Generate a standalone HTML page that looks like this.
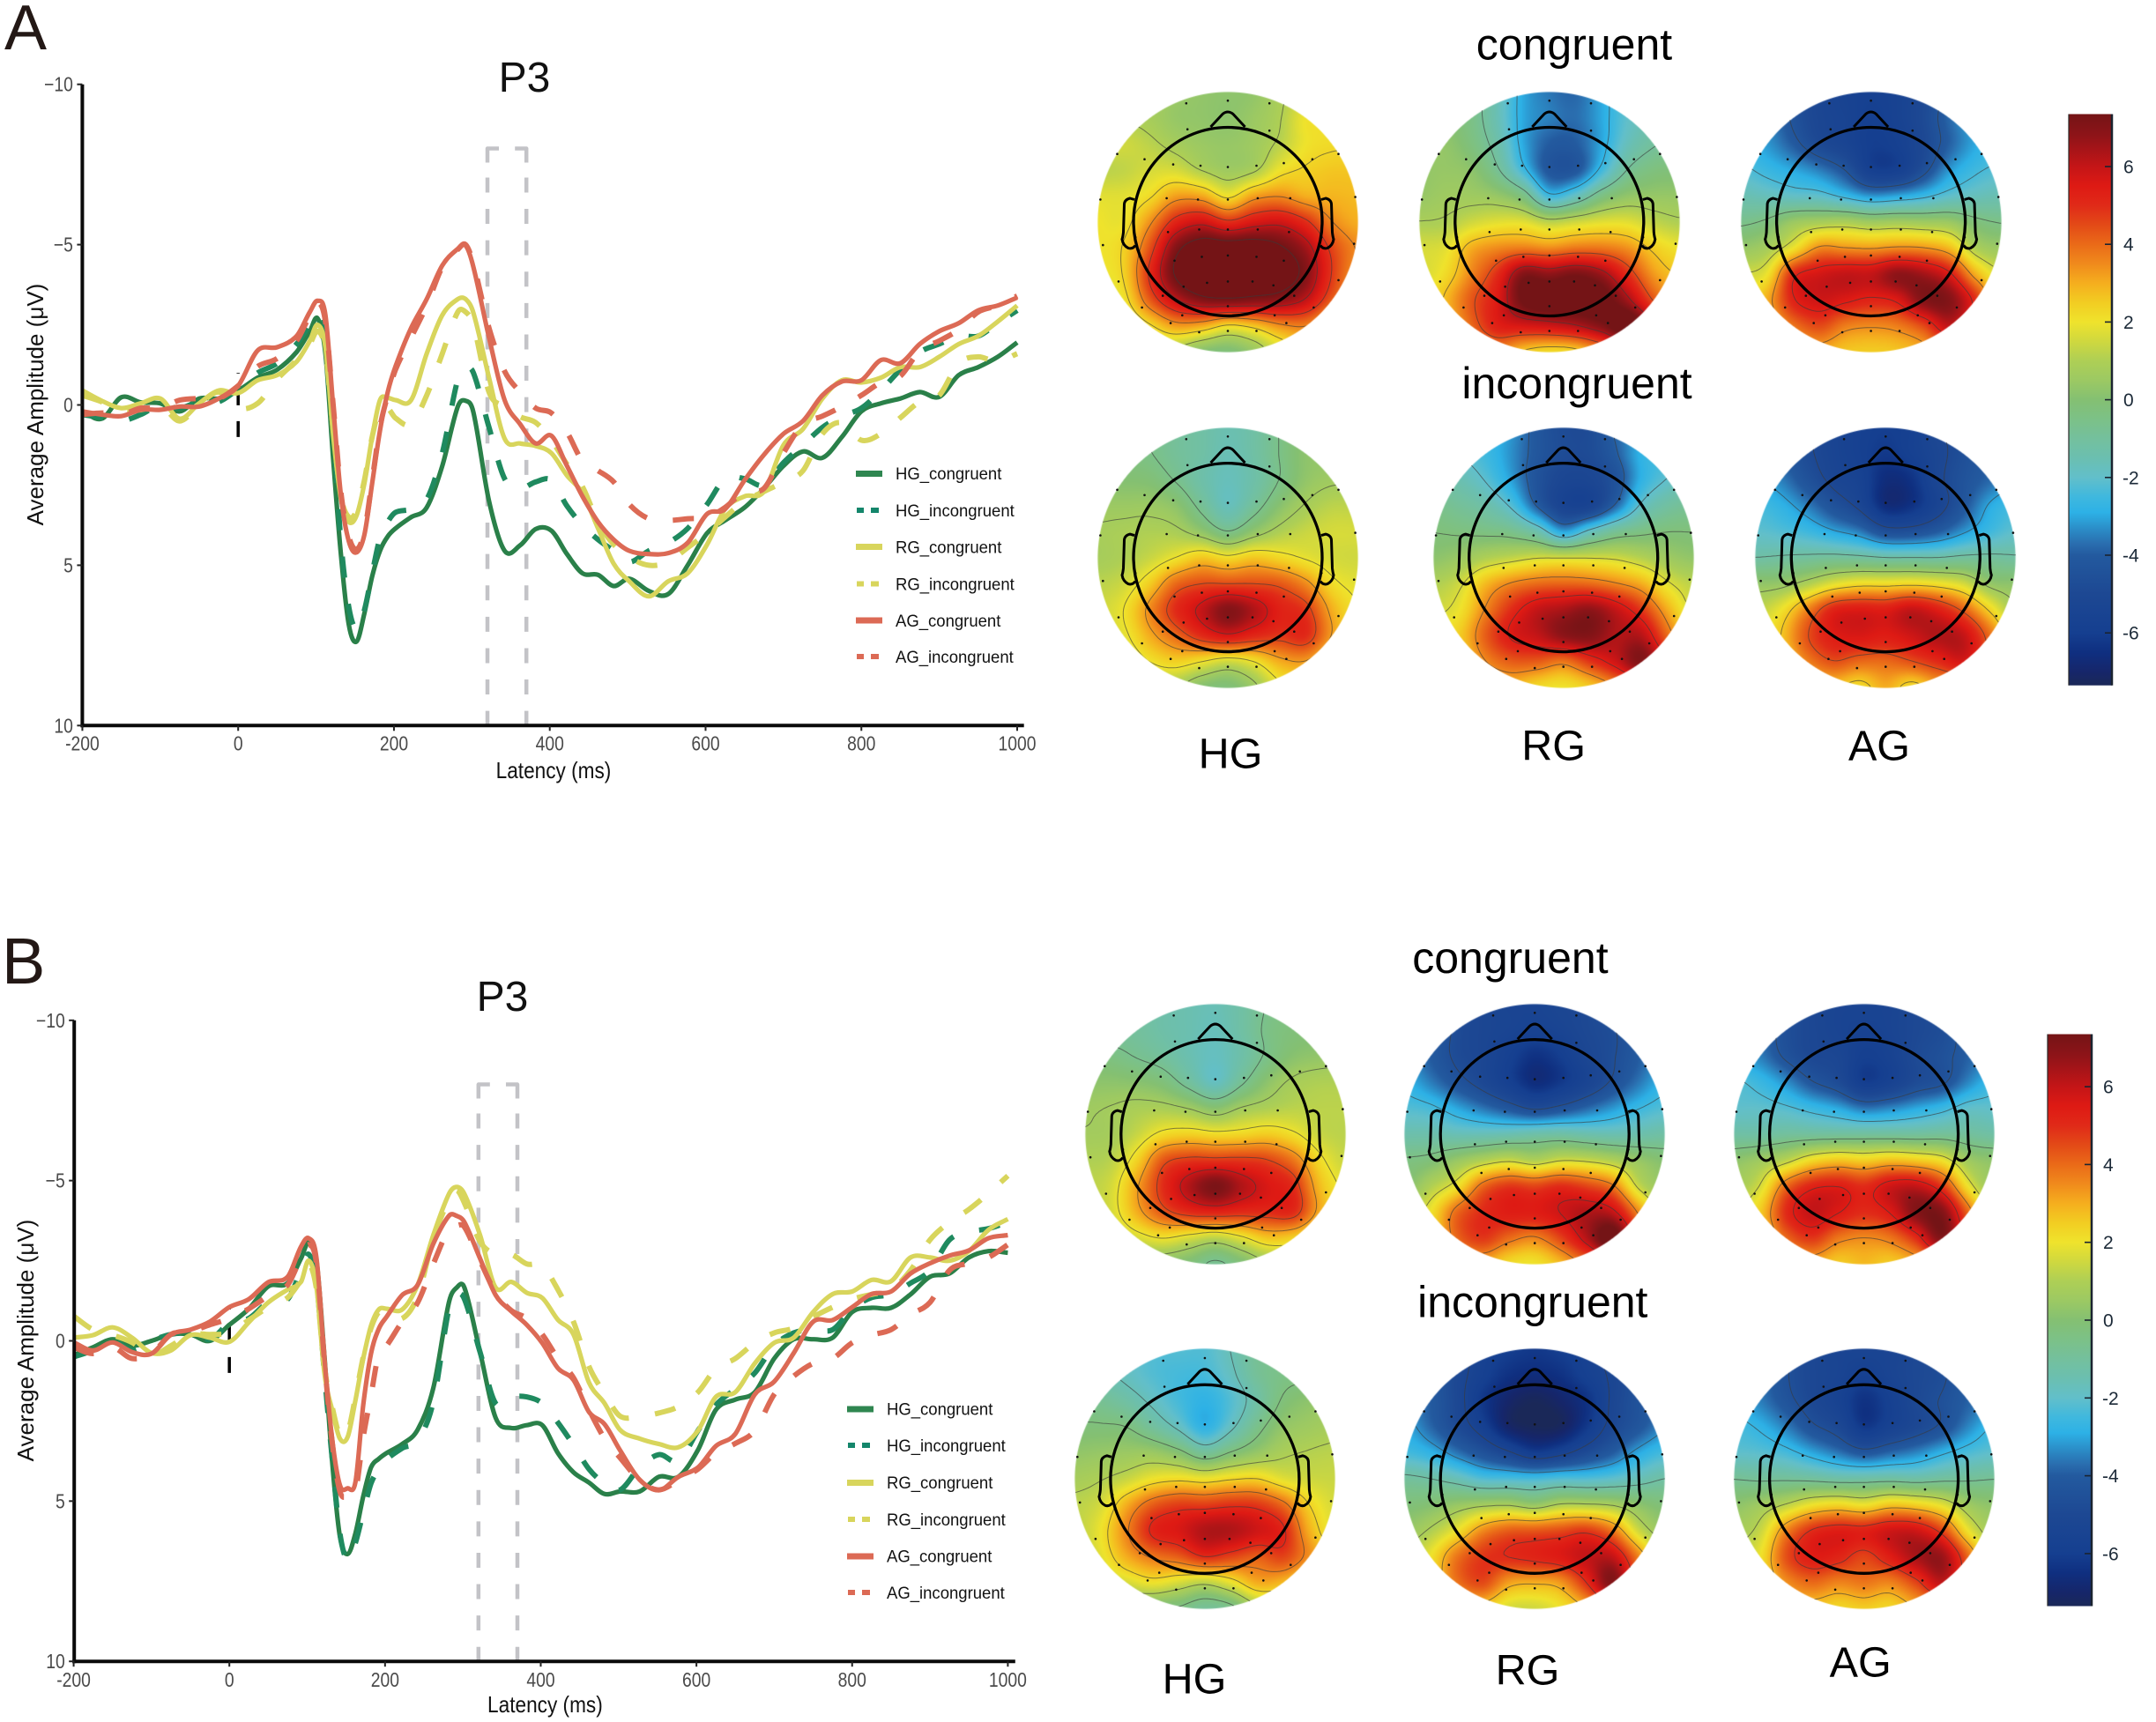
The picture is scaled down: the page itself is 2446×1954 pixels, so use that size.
<!DOCTYPE html>
<html lang="en">
<head>
<meta charset="utf-8">
<title>P3 ERP waveforms and scalp topographies</title>
<style>
html,body{margin:0;padding:0;background:#fff;}
#page{position:relative;width:2446px;height:1954px;overflow:hidden;background:#fff;font-family:"Liberation Sans",sans-serif;}
#page canvas{position:absolute;display:block;}
#overlay{position:absolute;left:0;top:0;}
#overlay text{font-family:"Liberation Sans",sans-serif;}
</style>
</head>
<body>
<div id="page">
<svg id="overlay" width="2446" height="1954" viewBox="0 0 2446 1954" xmlns="http://www.w3.org/2000/svg">
  <defs id="defs"></defs>
  <g id="plotA"></g>
  <g id="plotB"></g>
  <g id="topoLayer"></g>
  <g id="barLayer"></g>

  <text x="5" y="56" font-size="72" fill="#231815">A</text>
  <text x="2" y="1116" font-size="74" fill="#231815">B</text>
  <text x="595" y="104" font-size="48" text-anchor="middle" fill="#111">P3</text>
  <text x="570" y="1147" font-size="48" text-anchor="middle" fill="#111">P3</text>

  <text transform="translate(628,883) scale(.87,1)" font-size="26" text-anchor="middle" fill="#111">Latency (ms)</text>
  <text transform="translate(618.4,1943) scale(.87,1)" font-size="26" text-anchor="middle" fill="#111">Latency (ms)</text>
  <text transform="translate(49,459) rotate(-90)" font-size="26" text-anchor="middle" fill="#111">Average Amplitude (μV)</text>
  <text transform="translate(38,1521) rotate(-90)" font-size="26" text-anchor="middle" fill="#111">Average Amplitude (μV)</text>

  <text x="1786" y="67.5" font-size="50" text-anchor="middle" fill="#000">congruent</text>
  <text x="1789" y="452" font-size="50" text-anchor="middle" fill="#000">incongruent</text>
  <text x="1396" y="871.5" font-size="48.5" text-anchor="middle" fill="#000">HG</text>
  <text x="1762.6" y="862.7" font-size="48.5" text-anchor="middle" fill="#000">RG</text>
  <text x="2132" y="862.7" font-size="48.5" text-anchor="middle" fill="#000">AG</text>

  <text x="1713.4" y="1104" font-size="50" text-anchor="middle" fill="#000">congruent</text>
  <text x="1738.8" y="1494.7" font-size="50" text-anchor="middle" fill="#000">incongruent</text>
  <text x="1355" y="1921.4" font-size="48.5" text-anchor="middle" fill="#000">HG</text>
  <text x="1733" y="1911.5" font-size="48.5" text-anchor="middle" fill="#000">RG</text>
  <text x="2110.7" y="1902.7" font-size="48.5" text-anchor="middle" fill="#000">AG</text>

  <g font-size="19.5" fill="#111">
    <g><rect x="971" y="534" width="30" height="7" fill="#2f8650"/><text transform="translate(1016,544) scale(.95,1)">HG_congruent</text></g>
    <g><rect x="972" y="576" width="8" height="6" fill="#14866b"/><rect x="988" y="576" width="9" height="6" fill="#14866b"/><text transform="translate(1016,586) scale(.95,1)">HG_incongruent</text></g>
    <g><rect x="971" y="617" width="30" height="7" fill="#d8d55c"/><text transform="translate(1016,627.5) scale(.95,1)">RG_congruent</text></g>
    <g><rect x="972" y="659.5" width="8" height="6" fill="#d8d55c"/><rect x="988" y="659.5" width="9" height="6" fill="#d8d55c"/><text transform="translate(1016,669.5) scale(.95,1)">RG_incongruent</text></g>
    <g><rect x="971" y="700.5" width="30" height="7" fill="#dc6a55"/><text transform="translate(1016,711) scale(.95,1)">AG_congruent</text></g>
    <g><rect x="972" y="742" width="8" height="6" fill="#dc6a55"/><rect x="988" y="742" width="9" height="6" fill="#dc6a55"/><text transform="translate(1016,752) scale(.95,1)">AG_incongruent</text></g>
  </g>
  <g font-size="19.5" fill="#111">
    <g><rect x="961" y="1595.5" width="30" height="7" fill="#2f8650"/><text transform="translate(1006,1605.5) scale(.95,1)">HG_congruent</text></g>
    <g><rect x="962" y="1637" width="8" height="6" fill="#14866b"/><rect x="978" y="1637" width="9" height="6" fill="#14866b"/><text transform="translate(1006,1647) scale(.95,1)">HG_incongruent</text></g>
    <g><rect x="961" y="1679" width="30" height="7" fill="#d8d55c"/><text transform="translate(1006,1689) scale(.95,1)">RG_congruent</text></g>
    <g><rect x="962" y="1721" width="8" height="6" fill="#d8d55c"/><rect x="978" y="1721" width="9" height="6" fill="#d8d55c"/><text transform="translate(1006,1731) scale(.95,1)">RG_incongruent</text></g>
    <g><rect x="961" y="1762.5" width="30" height="7" fill="#dc6a55"/><text transform="translate(1006,1772.5) scale(.95,1)">AG_congruent</text></g>
    <g><rect x="962" y="1804" width="8" height="6" fill="#dc6a55"/><rect x="978" y="1804" width="9" height="6" fill="#dc6a55"/><text transform="translate(1006,1814) scale(.95,1)">AG_incongruent</text></g>
  </g>
</svg>
</div>

<script>
/* ---------- ERP data ---------- */
var timesMs = [-200,-175,-150,-125,-100,-75,-50,-25,0,25,50,75,92,102,112,122,132,142,152,162,172,182,192,202,222,242,262,282,292,302,322,342,362,382,402,422,442,462,482,502,527,552,577,602,625,650,675,700,725,750,775,800,825,850,875,900,925,950,975,1000];
var xTickValues = [-200,0,200,400,600,800,1000];
var xTickLabels = ["-200","0","200","400","600","800","1000"];
var yTickValues = [-10,-5,0,5,10];
var yTickLabels = ["\u221210","\u22125","0","5","10"];
var windowStartMs = 320;
var windowEndMs = 370;

var a_HG_congruent = [.2,.43,-.24,-.08,-.05,.2,-.2,-.2,-.45,-.85,-1.1,
 -1.65,-2.3,-2.7,-1.6,1.7,4.7,6.85,7.38,6.5,5.35,4.55,4.1,3.85,
 3.5,3.2,1.9,.05,-.13,.23,3,4.55,4.38,3.87,3.92,4.65,5.25,5.3,5.65,5.42,
 5.8,5.9,5,4.0,3.6,3.2,2.6,1.9,1.45,1.65,1,.2,-.05,-.2,-.4,-.25,-.93,-1.18,-1.5,-1.95];
var a_HG_incongruent = [.3,.4,.5,.3,0,.1,-.1,-.1,-.5,-1,-1.3,
 -1.9,-2.5,-2.8,-2.4,.8,4.3,6.3,7,6.4,5.25,4.15,3.65,3.35,
 3.25,2.95,1.5,-.8,-1.15,-1,.7,2.3,2.6,2.4,2.35,3.15,3.75,4.2,4.55,4.9,
 4.55,4.3,3.85,3.1,2.3,2.3,2.5,1.8,1.25,.7,.35,.1,-.45,-1.1,-1.65,-1.9,-2.15,-2.15,-2.55,-2.95];
var a_RG_congruent = [-.45,-.13,.1,-.05,-.2,.43,-.05,-.45,-.37,-.77,-.93,
 -1.35,-2,-2.5,-1.8,.95,2.95,3.65,3.45,2.45,1,-.15,-.22,-.15,
 -.15,-1.6,-2.8,-3.3,-3.3,-2.87,-.85,1.05,1.2,1.28,1.5,2.2,2.75,3.85,4.95,5.5,
 5.97,5.5,5.25,4.35,3.25,2.85,2.7,1.25,.75,-.2,-.77,-.7,-.85,-1.18,-1.18,-1.5,-1.9,-2.15,-2.6,-3.1];
var a_RG_incongruent = [-.3,-.1,.15,.15,0,.5,0,-.4,.1,-.05,-.8,
 -1.4,-1.9,-2.3,-1.7,.8,2.85,3.5,3.3,2.35,1,.1,.1,.41,
 .6,-.3,-1.6,-2.9,-2.9,-2.5,-.4,.05,.37,.55,1.1,1.85,2.55,3.65,4.35,4.75,
 5,4.9,4.45,4,3.5,3,2.7,2.4,2.05,.9,.55,1.1,.9,.4,-.1,-.3,-1.3,-1.5,-1.35,-1.6];
var a_AG_congruent = [.2,.3,.35,.15,.15,.05,.05,-.2,-.6,-1.7,-1.8,
 -2.15,-2.9,-3.25,-2.8,.05,2.85,4.25,4.6,4.05,2.45,.8,-.4,-1.2,
 -2.4,-3.3,-4.35,-4.87,-4.97,-4.3,-2.1,-.15,.6,1.2,.96,1.9,2.85,3.65,4.2,4.55,
 4.65,4.62,4.3,3.4,3.25,2.35,1.55,.9,.5,-.3,-.73,-.77,-1.4,-1.3,-1.9,-2.3,-2.55,-2.95,-3.1,-3.35];
var a_AG_incongruent = [.3,.25,.3,.1,.1,-.15,-.2,-.2,-.6,-1.2,-1.45,
 -2,-2.8,-3.2,-2.6,0,2.75,4.1,4.5,3.95,2.35,.7,-.3,-1.1,
 -2.1,-3.1,-4.3,-4.85,-5,-4.4,-2.4,-1.05,-.4,.1,.25,.85,1.75,2.05,2.4,3.1,
 3.55,3.6,3.55,3.5,3.2,2.7,2.6,1.5,.6,.35,.05,-.3,-.7,-.9,-1.7,-2,-2.35,-2.9,-3.1,-3.4];

var b_HG_congruent = [.45,.2,-.05,.15,0,-.2,-.2,0,-.5,-1,-1.7,
 -1.8,-2.57,-3.07,-2.5,.44,3.75,6.1,6.65,6,4.85,3.95,3.68,3.5,
 3.22,2.77,1.47,-1.2,-1.66,-1.66,.35,2.4,2.72,2.63,2.63,3.5,4.1,4.42,4.78,4.7,
 4.7,4.24,4.24,3.4,2.15,1.83,1.6,.55,-.05,-.05,-.1,-.9,-1.03,-1.03,-1.45,-2,-2.1,-2.6,-2.8,-2.75];
var b_HG_incongruent = [.5,.3,0,.3,0,-.2,-.25,-.05,-.55,-.7,-1.2,
 -1.3,-2.2,-2.7,-1.8,1,3.65,6,6.85,6.3,5.35,4.45,4,3.7,
 3.35,3.1,1.9,-1,-1.45,-1.3,.35,1.95,1.75,1.75,1.95,2.55,3.25,4,4.45,4.65,
 3.95,3.55,3.75,2.8,2,1.5,1,.15,-.25,-.35,-.35,-1,-1.35,-1.45,-1.8,-2.2,-3.15,-3.4,-3.5,-3.7];
var b_RG_congruent = [-.1,-.18,-.42,-.1,.38,.3,-.18,-.1,.03,-.58,-1.2,
 -1.6,-1.84,-2.5,-1.66,1,2.15,3.05,3,1.85,.55,-.47,-.98,-1,
 -.98,-1.75,-3.3,-4.58,-4.8,-4.58,-3.3,-1.66,-1.84,-1.5,-1.34,-.66,-.2,1.3,1.95,2.78,
 3.05,3.22,3.32,2.8,1.75,1.6,.7,.06,-.1,-.9,-1.46,-1.54,-1.9,-1.86,-2.6,-2.6,-2.5,-2.8,-3.46,-3.8];
var b_RG_incongruent = [-.77,-.35,-.18,.05,.45,.15,-.2,-.2,-.25,-.65,-1.05,
 -1.35,-1.9,-2.4,-1.6,.8,2.05,2.95,2.85,1.75,.5,-.4,-.9,-.9,
 -.7,-1.4,-3.2,-4.4,-4.7,-4.3,-3.1,-2.7,-2.7,-2.4,-2.34,-1.6,-.6,.8,1.65,2.35,
 2.35,2.25,2.05,1.6,.87,.55,.06,-.25,-.4,-.75,-1.05,-1.3,-1.45,-1.6,-2.2,-3.15,-3.7,-4.1,-4.6,-5.15];
var b_AG_congruent = [.05,.3,.05,.35,.4,-.2,-.35,-.6,-1.05,-1.3,-1.83,
 -2,-2.94,-3.2,-2.57,.53,3.05,4.5,4.6,4.4,2,.4,-.38,-.75,
 -1.43,-1.75,-3.03,-3.9,-3.9,-3.7,-2.57,-1.43,-.93,-.5,.07,.85,1.22,2.22,2.6,3.42,
 4.33,4.66,4.24,3.95,3.28,2.9,1.67,1.27,.38,-.6,-.65,-1.05,-1.46,-1.54,-2.1,-2.42,-2.66,-2.82,-3.2,-3.3];
var b_AG_incongruent = [.2,.4,.2,.55,.4,-.2,-.3,-.5,-.7,-1,-1.4,
 -1.75,-2.6,-3,-2.4,.6,3.15,4.7,4.85,4.7,3,1.7,.4,.15,
 -.6,-1.2,-2.4,-3.5,-3.6,-3.55,-2.5,-1.5,-.95,-.7,-.2,.55,1.15,2.15,3.05,3.65,
 4.35,4.65,4.35,4,3.5,3.2,2.8,1.67,1.1,.7,.55,.06,-.18,-.35,-.82,-1.2,-2.2,-2.42,-2.6,-3];

/* ---------- Topography data: amplitude sampled on an 11x11 lattice (front row first) ---------- */
var topoA_HG_congruent = [
[1,1,.8,.5,.3,.2,.3,.9,1.5,2,2],
[1,1,.8,.4,.3,.2,.5,1,2,2,2],
[1.5,1.5,1.2,.8,.5,.4,.6,1.2,2,2.2,2.2],
[1.2,1.3,1.6,1.6,1,.6,.9,2,2.4,2.6,2.6],
[1.8,1.8,2.2,3.2,3.1,2.1,3.2,3.5,3,2.9,2.8],
[2,2,3.4,5.2,5.8,5,5.6,5.8,5,3.6,3],
[2,2.4,4.4,7,8,8,8,7.5,6.5,4.6,3.5],
[1.9,2.4,5,7.5,8.5,8.5,8.5,8,7,4.8,3.3],
[1.5,2,4.2,6,7,7.2,7,6.8,6,4.2,3],
[1.2,1.3,2.2,3.2,3,2.2,2.6,3.4,3.6,2.5,2],
[.8,.8,1,.8,0,-.2,.4,1.6,2.4,2.2,2]];
var topoA_RG_congruent = [
[0,0,-.5,-1.6,-3,-3.6,-3.8,-3,-2,-1.2,-1],
[0,0,-.5,-1.6,-3,-3.5,-3.7,-3,-2,-1.4,-1],
[.3,.3,-.3,-1.3,-3,-4,-4,-3,-1.7,-1,-.8],
[.3,.4,.2,-.8,-2.5,-4.2,-4.2,-2.5,-.9,-.3,-.2],
[.4,.6,.6,.4,-.4,-2.5,-1.8,-.4,.3,.4,.4],
[.9,1,1.5,1.8,1.8,1.2,1.5,1.8,1.8,1.3,1],
[1.6,1.8,3,3.5,3.7,3.5,3.8,3.8,3.4,2.5,2],
[1.6,2.2,3.6,5,7,6.8,7.2,6.6,5,3.3,2.6],
[1.8,2.8,4.3,5.5,7.5,8,8,7.8,6.5,4.4,3],
[2,2.5,4,5.3,5.6,5.8,6.2,7,8,6,3.5],
[2,2,3,3.5,2.6,2.2,2.4,3.5,5,4,3]];
var topoA_AG_congruent = [
[-3.4,-3.4,-4.4,-5.2,-5.6,-5.8,-5.6,-5,-4,-3.2,-3],
[-3.4,-3.4,-4.4,-5.2,-5.5,-5.9,-5.6,-4.9,-3.8,-3,-2.8],
[-2.8,-3.2,-4,-4.9,-5.4,-6,-5.8,-5,-3.9,-3,-2.6],
[-2.2,-2.6,-3,-3.5,-4.3,-5.8,-5.8,-4.6,-3.2,-2.5,-2.2],
[-1.5,-1.7,-1.9,-2,-2.6,-3.2,-3,-2.6,-2,-1.7,-1.5],
[-.6,-.3,.5,.8,.9,.6,.7,.6,.5,-.2,-.5],
[.4,.8,2,3.5,3.4,3.3,3.5,3.4,2.8,1,.5],
[1.5,2,5,5.7,6,6,6.8,6.5,5.5,3,1.5],
[2,3,5.2,5.8,5.5,5.2,5.5,7,7,5,2],
[2,2.5,3.8,4.5,3.7,3.5,3.7,4.5,6,4.5,2],
[2,2,2.5,3,2.6,2.5,2.6,3,4,3,2]];
var topoA_HG_incongruent = [
[-.3,-.3,-.5,-.9,-1.2,-1.5,-1.2,-.5,.2,.3,.3],
[-.3,-.3,-.5,-.9,-1.2,-1.6,-1.2,-.5,.2,.3,.4],
[0,0,-.1,-.6,-1.3,-1.7,-1.3,-.5,.3,.6,.6],
[.5,.5,.5,.2,-.8,-1.7,-.9,.1,.8,1.2,1.2],
[.8,.9,1,.9,.3,-.5,.3,1,1.4,1.6,1.6],
[.8,1,1.4,2,2.6,2.2,2.6,2.3,1.9,1.6,1.5],
[1.2,1.5,2.5,4,4.5,4.5,4.5,4.3,3.5,2.2,1.8],
[1.5,2,3.5,5,6,7,6.3,5.3,4.8,3,2],
[1.4,1.8,3,4,5,5.6,5.1,4.8,5,3.2,2],
[1,1.2,2,2.4,2,1.5,2,3,3.2,2,1.6],
[.5,.5,1,.8,0,-.2,.5,1.8,2,1.5,1.5]];
var topoA_RG_incongruent = [
[-2,-2,-2.5,-3.2,-4.2,-4.8,-4.8,-3.8,-3,-2.5,-2],
[-1.5,-2,-2.5,-3.3,-4.2,-4.8,-4.8,-4,-2.8,-2.4,-2],
[-1.2,-1.5,-2.1,-3.1,-4.4,-5.2,-5.2,-4.4,-2.8,-2,-1.6],
[-.6,-.9,-1.3,-2.2,-4,-5.4,-5.4,-3.8,-1.9,-1.1,-.8],
[-.2,-.3,-.4,-.6,-1.4,-3,-1.8,-.8,-.4,-.2,-.2],
[.2,.5,1,1.3,1.6,1.6,1.6,1.5,1.1,.6,.3],
[1,1.5,2.8,3.6,4,4.1,4,3.6,3,1.8,1.2],
[1.5,2,3.6,5,6,6.4,6.8,6,4.8,3,1.5],
[2,2.5,4.2,5.5,6,6.8,7,6.3,6.2,4,2],
[2,2.2,3.5,4.2,4.2,3.8,4.8,5.8,7,5,2.5],
[2,2,2.5,2.8,2.2,2,2.5,3.5,4.5,3.5,2.5]];
var topoA_AG_incongruent = [
[-4,-4,-4.8,-5.4,-5.8,-6,-5.8,-5,-4.8,-4,-4],
[-3.5,-4,-4.8,-5.4,-5.8,-6.2,-5.8,-5.2,-4.6,-4,-3.5],
[-3,-3.5,-4.4,-5.2,-5.6,-6.6,-6.4,-5.2,-4.4,-3.8,-3.2],
[-2.4,-2.8,-3.5,-4.4,-5.2,-6.6,-6.4,-5.4,-4.2,-3,-2.5],
[-2,-2.2,-2.5,-3,-3.5,-4.5,-4.5,-4,-3.2,-2.5,-2],
[-1.2,-1.1,-1,-.9,-1,-1.2,-1.2,-1.2,-1,-1,-1.1],
[.3,.4,1,1.8,2.2,2.2,2.3,2.1,1.6,.4,.2],
[1.2,2,3.6,5.2,5.5,5.4,6,5.4,4.2,2.4,.8],
[1.8,2.6,4.4,5.4,5.6,5.4,5.8,6.3,6,4,1.8],
[2,2.2,3.6,4.4,4,4,4.4,5,5.6,4,2],
[2,2,2.2,2.6,2.2,3,2.2,3,3,2.5,2]];
var topoB_HG_congruent = [
[-.8,-.8,-1,-1.3,-1.5,-1.6,-1.2,-.6,-.3,-.1,0],
[-.8,-.9,-1,-1.3,-1.5,-1.7,-1.2,-.5,-.2,-.1,0],
[-.3,-.4,-.7,-1,-1.5,-1.8,-1.3,-.5,.1,.3,.4],
[.2,.2,.1,-.2,-1,-1.8,-.8,.2,.8,1,1],
[.6,.7,.9,.9,.6,.1,.7,1,1.2,1.2,1.2],
[.7,.8,1.4,2.2,2.4,2.2,2.3,2.5,2.1,1.4,1.2],
[1,1.2,2.4,4.3,4.8,4.8,4.8,4.6,3.8,2.2,1.4],
[1.2,1.6,3.2,5,6.3,7.2,6.3,5.6,5,2.8,1.8],
[1,1.6,3,4.3,5,5.2,5,5,5,3,1.8],
[.6,1,1.6,2,1.6,1.2,1.8,2.6,2.4,1.6,1.2],
[.2,.2,.2,.1,-.2,-.8,-.2,.6,1,1,1]];
var topoB_RG_congruent = [
[-3.2,-3.8,-4.6,-5.2,-5.4,-5.4,-5.2,-5,-4.4,-3.8,-3.2],
[-3.2,-3.8,-4.8,-5.2,-5.4,-5.6,-5.4,-5,-4.7,-4,-3.2],
[-3.2,-4,-4.8,-5.2,-5.8,-6.4,-6,-5.2,-4.7,-4,-3.2],
[-2.8,-3.5,-4.3,-5,-5.8,-6.6,-6.2,-5.4,-4.5,-3.6,-2.8],
[-2.2,-2.4,-3,-3.6,-4.2,-4.8,-4.4,-3.8,-3.2,-2.6,-2.2],
[-1.4,-1.4,-1.6,-1.6,-1.5,-1.3,-1.2,-1.4,-1.5,-1.4,-1.2],
[-.4,-.2,.4,1,1.4,1,1.5,1.4,1,.4,0],
[0,1,2,4,4.8,4.6,5,4.6,3.8,1.4,.4],
[1,2,4,5,5.4,5.4,5.8,6.3,6,3.5,1],
[1.5,2,4,4.8,4,3.6,4.6,6.2,7.8,4.5,1.5],
[1.5,1.5,2.5,3,2.2,2,2.8,4,5,3,1.5]];
var topoB_AG_congruent = [
[-3.6,-3.6,-4.4,-5.1,-5.4,-5.4,-5.4,-5,-4.6,-3.8,-3.5],
[-3.6,-3.7,-4.6,-5.1,-5.4,-5.6,-5.4,-5,-4.7,-3.9,-3.5],
[-3,-3.5,-4.4,-5,-5.2,-5.9,-5.6,-4.9,-4.5,-3.9,-3.4],
[-2.2,-2.6,-3.3,-4.2,-4.8,-6,-5.6,-4.8,-4.4,-3.4,-2.6],
[-2,-2,-2.2,-2.6,-3,-3.6,-3.4,-3,-2.6,-2,-2],
[-1.2,-1.2,-1,-1,-1,-1,-1,-1,-.9,-1,-1.2],
[.2,.6,1.2,2.2,2.6,2.4,2.7,2.5,2,.6,.2],
[.8,1.6,4,5.2,5.4,5,5.8,6,4.8,2,.4],
[1.5,2.5,5,6,5.5,5,5.5,7,7,4,1],
[1.8,2.2,4,4.8,3.8,3.5,3.8,5,7,4.5,1.5],
[2,2,2.5,3,2.5,2.8,2.5,3,4,3,2]];
var topoB_HG_incongruent = [
[-1.5,-1.5,-1.8,-2.2,-2.2,-2.2,-1.6,-.8,-.6,-.4,-.2],
[-1,-1.4,-1.8,-2.2,-2.4,-2.4,-1.8,-.9,-.5,-.4,-.2],
[-.6,-.8,-1.2,-1.8,-2.4,-2.8,-2.2,-1.2,-.2,.2,.4],
[-.2,-.2,-.3,-1,-1.8,-2.8,-1.8,-.6,.3,.6,.8],
[.3,.4,.5,.5,0,-.9,-.2,.4,.9,1.1,1.2],
[.8,1,1.4,2,2.2,2,2.3,2.4,1.8,1.5,1.4],
[1.2,1.6,3,4.2,4.7,4.7,4.9,4.8,4,2.4,1.6],
[1.2,2,3.6,5.2,5.6,6.3,6.3,5.8,5.2,3,1.8],
[1,1.8,3,3.8,4.2,5,4.6,4.2,4.6,3.4,2.2],
[.8,1.2,1.6,2,1.6,1.2,1.9,3,2.8,2,1.8],
[0,0,0,-.2,-.4,-.9,-.6,.8,1.2,1.4,1.4]];
var topoB_RG_incongruent = [
[-3.4,-3.8,-4.8,-5.7,-6,-6.2,-6,-5.7,-5,-4.2,-3.6],
[-3.4,-4,-5,-5.8,-6.4,-6.6,-6.4,-5.8,-5.2,-4.4,-3.6],
[-3.4,-4,-5,-6.2,-7,-7.3,-7,-6.4,-5.2,-4.4,-3.8],
[-3,-3.8,-4.8,-5.8,-7,-7.3,-7.2,-6.2,-5,-4.2,-3.4],
[-2.4,-2.8,-3.6,-4.4,-5.2,-6,-5.6,-4.8,-4,-3,-2.4],
[-1,-1.2,-1.6,-2.2,-2.3,-2.4,-2.2,-2.2,-2,-1.6,-1.2],
[-.2,0,.4,.7,.8,.4,1,1,.8,.2,-.2],
[.4,1,2,3.5,4.2,4.3,4.5,4.8,3.8,1.5,.4],
[1,2,3.8,4.8,5,5.2,5.5,6,6,3.6,.9],
[1.4,2,3.8,4.5,3.2,3,3.3,5,7,4,1.5],
[1.5,1.5,2,2.5,1.6,1.5,2,3,4.5,3,1.5]];
var topoB_AG_incongruent = [
[-3.6,-3.6,-4.4,-5.1,-5.4,-5.4,-5.4,-5,-4.6,-3.8,-3.5],
[-3.6,-3.7,-4.5,-5.1,-5.4,-5.8,-5.4,-5,-4.7,-3.9,-3.5],
[-3,-3.5,-4.3,-5,-5.6,-6.4,-5.8,-5,-4.5,-3.9,-3.4],
[-2.4,-2.8,-3.5,-4.4,-5,-6.2,-5.6,-5,-4.4,-3.4,-2.6],
[-2,-2.1,-2.4,-3,-3.6,-4.2,-3.8,-3.4,-2.8,-2.3,-2],
[-.8,-.9,-.9,-1,-1.2,-1.2,-1.1,-1.2,-1,-.9,-.8],
[.2,.6,1.2,2,2.3,2,2.6,2.4,1.8,.6,.2],
[.8,1.4,3.6,5,5.4,5.3,5.8,5.8,4.6,2,.6],
[1.2,2,4.4,5.4,5.2,4.6,5.4,6.4,6.6,4,1],
[1.5,2,3.4,4,3.6,3.8,3.6,4.6,6,4,1.5],
[2,2,2.5,2.6,2.3,2.5,2.3,3,3.5,2.5,1.5]];

var contourCount = 6;
var colorbarTicks = [6,4,2,0,-2,-4,-6];
var colorbarLabels = ["6","4","2","0","-2","-4","-6"];
var colormapValues = [-7.35,-7,-6.5,-6,-5,-4,-3.7,-3.3,-2.9,-2.5,-2,-1.5,-1,-.5,0,.5,1,1.5,2,2.5,3,3.5,4,4.5,5,5.5,6,6.8,7.35];
var colormapColors = ["#1a2858","#16266a","#0f2f80","#153f90","#1d4893","#235a9f","#2a6eaf","#2b8fc9","#2db1e6","#3fb8de","#62bfca","#6bbfb0","#74c09d","#7cc187","#84c072","#9cc963","#aecf55","#cfd83f","#efe32c","#f2cd22","#f5ae1e","#f08a1c","#ea6a18","#e34a17","#e02a18","#de1a14","#c41517","#8e1418","#741416"];
/* electrode sites in normalised head coordinates */
var electrodeSites = [[-.32,-.91],[0,-.93],[.32,-.91],[-.31,-.71],[.32,-.70],[-.85,-.52],[-.64,-.48],[-.42,-.44],[-.21,-.43],[0,-.42],[.22,-.43],[.43,-.45],[.65,-.48],[.85,-.52],[-.98,-.17],[-.47,-.18],[-.23,-.17],[0,-.17],[.23,-.18],[.48,-.18],[.98,-.19],[-.96,.18],[-.71,.12],[-.46,.08],[-.22,.06],[0,.06],[.23,.06],[.47,.08],[.72,.12],[.97,.17],[-.84,.46],[-.41,.30],[-.20,.27],[0,.26],[.22,.27],[.43,.30],[.85,.45],[-.16,.47],[0,.46],[.19,.46],[-.34,.50],[.35,.49],[-.50,.57],[.51,.57],[-.66,.66],[0,.65],[.66,.66],[-.35,.72],[.36,.72],[-.44,.78],[.45,.78],[-.22,.85],[0,.84],[.22,.84]];

/* ---------- helpers ---------- */
var SVGNS = "http://www.w3.org/2000/svg";
function svgEl(tag, parent){
  var el = document.createElementNS(SVGNS, tag);
  parent.appendChild(el);
  return el;
}
function attrs(el, map){ for (var k in map) el.setAttribute(k, map[k]); return el; }

function splinePath(pts){
  var d = "M" + pts[0][0].toFixed(1) + " " + pts[0][1].toFixed(1);
  for (var i = 0; i < pts.length - 1; i++){
    var p0 = pts[Math.max(0, i-1)], p1 = pts[i], p2 = pts[i+1], p3 = pts[Math.min(pts.length-1, i+2)];
    var dx = p2[0]-p1[0];
    var t1 = (p2[1]-p0[1])/Math.max(1e-6,(p2[0]-p0[0]));
    var t2 = (p3[1]-p1[1])/Math.max(1e-6,(p3[0]-p1[0]));
    var c1x = p1[0]+dx/3, c1y = p1[1]+t1*dx/3, c2x = p2[0]-dx/3, c2y = p2[1]-t2*dx/3;
    d += "C"+c1x.toFixed(1)+" "+c1y.toFixed(1)+" "+c2x.toFixed(1)+" "+c2y.toFixed(1)+" "+p2[0].toFixed(1)+" "+p2[1].toFixed(1);
  }
  return d;
}

/* ---------- ERP panel ---------- */
function drawPanel(groupId, geom, series){
  var g = document.getElementById(groupId);
  function xScale(t){ return geom.x0 + geom.pxPerMs * t; }
  function yScale(v){ return geom.y0 + geom.pxPerUv * v; }

  // analysis window: rounded corner brackets on top, dashed verticals below
  var top = yScale(-8), bottom = yScale(10), xl = xScale(windowStartMs), xr = xScale(windowEndMs);
  var cap = svgEl("path", g);
  
  
  attrs(cap, {d:"M"+xl+" "+(top+16)+"V"+top+"H"+(xl+13)+"M"+(xr-13)+" "+top+"H"+xr+"V"+(top+16),
    fill:"none", stroke:"#c3c3c7", "stroke-width":4.5, "stroke-linejoin":"round"});
  var box = svgEl("path", g);
  
  
  attrs(box, {d:"M"+xl+" "+(top+33)+"V"+bottom+"M"+xr+" "+(top+33)+"V"+bottom,
    fill:"none", stroke:"#c3c3c7", "stroke-width":4.5, "stroke-dasharray":"17 18.6"});

  // stimulus onset marker
  var onset = svgEl("line", g);
  
  
  attrs(onset, {x1:xScale(0), x2:xScale(0), y1:yScale(1), y2:yScale(-1), stroke:"#000", "stroke-width":3.5, "stroke-dasharray":"18 18"});

  // series
  series.forEach(function(s){
    var pts = timesMs.map(function(t,i){ return [xScale(t), yScale(s.values[i])]; });
    var line = svgEl("path", g);
    
    
    attrs(line, {d:splinePath(pts), fill:"none", stroke:s.color, "stroke-width":s.dashed?6:5.2, "stroke-linejoin":"round"});
    if (s.dashed) line.setAttribute("stroke-dasharray", "24 30");
  });

  // axes
  var yAxis = svgEl("line", g);
  
  
  attrs(yAxis, {x1:geom.axisX, x2:geom.axisX, y1:yScale(-10), y2:yScale(10)+2, stroke:"#0a0a0a", "stroke-width":4});
  var xAxis = svgEl("line", g);
  
  
  attrs(xAxis, {x1:geom.axisX-2, x2:geom.axisEnd, y1:yScale(10), y2:yScale(10), stroke:"#0a0a0a", "stroke-width":4});

  xTickValues.forEach(function(t,i){
    var tick = svgEl("line", g);
    
    
    attrs(tick, {x1:xScale(t), x2:xScale(t), y1:yScale(10), y2:yScale(10)+6, stroke:"#222", "stroke-width":2});
    var lab = svgEl("text", g);
    
    
    attrs(lab, {transform:"translate("+xScale(t)+","+geom.xLabelY+") scale(.84,1)", "font-size":23, "text-anchor":"middle", fill:"#4a4a4a"});
    lab.textContent = xTickLabels[i];
  });
  yTickValues.forEach(function(v,i){
    var tick = svgEl("line", g);
    
    
    attrs(tick, {x1:geom.axisX-6, x2:geom.axisX, y1:yScale(v), y2:yScale(v), stroke:"#222", "stroke-width":2});
    var lab = svgEl("text", g);
    
    
    attrs(lab, {transform:"translate("+(geom.axisX-10.5)+","+(yScale(v)+8)+") scale(.84,1)", "font-size":23, "text-anchor":"end", fill:"#4a4a4a"});
    lab.textContent = yTickLabels[i];
  });
}

var GREEN="#2a8049", TEAL="#1f8a5f", YELLOW="#d8d55c", RED="#dc6a55";
drawPanel("plotA", {x0:270.2, pxPerMs:.8838, y0:459.5, pxPerUv:36.38, axisX:93.4, axisEnd:1161.7, xLabelY:851.5}, [
  {name:"hg-congruent-line", values:a_HG_congruent, color:GREEN, dashed:false},
  {name:"hg-incongruent-line", values:a_HG_incongruent, color:TEAL, dashed:true},
  {name:"rg-congruent-line", values:a_RG_congruent, color:YELLOW, dashed:false},
  {name:"rg-incongruent-line", values:a_RG_incongruent, color:YELLOW, dashed:true},
  {name:"ag-congruent-line", values:a_AG_congruent, color:RED, dashed:false},
  {name:"ag-incongruent-line", values:a_AG_incongruent, color:RED, dashed:true}
]);
drawPanel("plotB", {x0:260.2, pxPerMs:.8832, y0:1521.5, pxPerUv:36.37, axisX:84.2, axisEnd:1151.8, xLabelY:1914}, [
  {name:"hg-congruent-line", values:b_HG_congruent, color:GREEN, dashed:false},
  {name:"hg-incongruent-line", values:b_HG_incongruent, color:TEAL, dashed:true},
  {name:"rg-congruent-line", values:b_RG_congruent, color:YELLOW, dashed:false},
  {name:"rg-incongruent-line", values:b_RG_incongruent, color:YELLOW, dashed:true},
  {name:"ag-congruent-line", values:b_AG_congruent, color:RED, dashed:false},
  {name:"ag-incongruent-line", values:b_AG_incongruent, color:RED, dashed:true}
]);

/* ---------- colour map ---------- */
function hexRgb(h){ return [parseInt(h.substr(1,2),16),parseInt(h.substr(3,2),16),parseInt(h.substr(5,2),16)]; }
var cmapRgb = colormapColors.map(hexRgb);
function colorAt(v){
  var n = colormapValues.length;
  if (v <= colormapValues[0]) return cmapRgb[0];
  if (v >= colormapValues[n-1]) return cmapRgb[n-1];
  for (var i = 0; i < n-1; i++){
    if (v <= colormapValues[i+1]){
      var f = (v-colormapValues[i])/(colormapValues[i+1]-colormapValues[i]);
      var a = cmapRgb[i], b = cmapRgb[i+1];
      return [a[0]+(b[0]-a[0])*f, a[1]+(b[1]-a[1])*f, a[2]+(b[2]-a[2])*f];
    }
  }
  return cmapRgb[n-1];
}

/* ---------- topographies ---------- */
var MAP_R = 147.6;
function cubicW(t){
  var t2=t*t, t3=t2*t;
  return [-.5*t3+t2-.5*t, 1.5*t3-2.5*t2+1, -1.5*t3+2*t2+.5*t, .5*t3-.5*t2];
}
function sampleGrid(grid,u,v){
  var iu=Math.floor(u), iv=Math.floor(v);
  var wu=cubicW(u-iu), wv=cubicW(v-iv), s=0;
  for (var j=-1;j<=2;j++){
    var row=grid[Math.min(10,Math.max(0,iv+j))];
    for (var i=-1;i<=2;i++){
      s+=wv[j+1]*wu[i+1]*row[Math.min(10,Math.max(0,iu+i))];
    }
  }
  return s;
}
var topoCount = 0;
function drawTopo(name, grid, cx, cy){
  topoCount++;
  var R = MAP_R, N = Math.ceil(2*R)+2, half = N/2;
  var page = document.getElementById("page");
  var cv = document.createElement("canvas");
  
  
  cv.width = N; cv.height = N;
  cv.style.left = (cx-half)+"px";
  cv.style.top = (cy-half)+"px";
  page.insertBefore(cv, document.getElementById("overlay"));
  var ctx = cv.getContext("2d");
  var img = ctx.createImageData(N,N);
  var field = new Float32Array(N*N);
  var fmin = Infinity, fmax = -Infinity;
  for (var y=0;y<N;y++){
    for (var x=0;x<N;x++){
      var dx=x+.5-half, dy=y+.5-half;
      var val = sampleGrid(grid, Math.max(0,Math.min(10,(dx/R+1)*5)), Math.max(0,Math.min(10,(dy/R+1)*5)));
      field[y*N+x]=val;
      var c=colorAt(val), k=(y*N+x)*4, r=Math.sqrt(dx*dx+dy*dy);
      if (r<R){ if(val<fmin)fmin=val; if(val>fmax)fmax=val; }
      img.data[k]=c[0]; img.data[k+1]=c[1]; img.data[k+2]=c[2];
      img.data[k+3]=255*Math.max(0,Math.min(1,R-r+.5));
    }
  }
  ctx.putImageData(img,0,0);

  var layer = document.getElementById("topoLayer");
  var g = svgEl("g", layer);
  
  
  g.setAttribute("transform", "translate("+cx+","+cy+")");

  // clip
  var clip = svgEl("clipPath", document.getElementById("defs"));
  clip.setAttribute("id", "mapClip"+topoCount);
  var cc = svgEl("circle", clip);
  attrs(cc, {cx:0, cy:0, r:R});

  // contour lines: equally spaced between the map's extremes
  var d = "", step = 3;
  for (var lv=1; lv<=contourCount; lv++){
    var level = fmin + (fmax-fmin)*lv/(contourCount+1);
    for (var y2=0;y2<N-step;y2+=step){
      for (var x2=0;x2<N-step;x2+=step){
        var a=field[y2*N+x2], b=field[y2*N+x2+step], c2=field[(y2+step)*N+x2+step], e=field[(y2+step)*N+x2];
        var pts=[];
        if ((a<level)!==(b<level)) pts.push([x2+step*(level-a)/(b-a), y2]);
        if ((b<level)!==(c2<level)) pts.push([x2+step, y2+step*(level-b)/(c2-b)]);
        if ((e<level)!==(c2<level)) pts.push([x2+step*(level-e)/(c2-e), y2+step]);
        if ((a<level)!==(e<level)) pts.push([x2, y2+step*(level-a)/(e-a)]);
        for (var p=0;p+1<pts.length;p+=2){
          d+="M"+(pts[p][0]-half+.5).toFixed(1)+" "+(pts[p][1]-half+.5).toFixed(1)+"L"+(pts[p+1][0]-half+.5).toFixed(1)+" "+(pts[p+1][1]-half+.5).toFixed(1);
        }
      }
    }
  }
  var contour = svgEl("path", g);
  
  
  attrs(contour, {d:d, fill:"none", stroke:"#3a3a3a", "stroke-width":1, "stroke-opacity":.62, "clip-path":"url(#mapClip"+topoCount+")"});

  // electrodes
  electrodeSites.forEach(function(s){
    var dot = svgEl("circle", g);
    
    
    attrs(dot, {cx:(s[0]*R).toFixed(1), cy:(s[1]*R).toFixed(1), r:1.3, fill:"#111"});
  });

  // head outline
  var head = svgEl("circle", g);
  
  
  attrs(head, {cx:0, cy:0, r:107, fill:"none", stroke:"#000", "stroke-width":3.3});
  var nose = svgEl("path", g);
  
  
  attrs(nose, {d:"M-19.5 -107.5L-6 -122Q0 -127 6 -122L19.5 -107.5", fill:"none", stroke:"#000", "stroke-width":3, "stroke-linejoin":"round"});
  var earL = svgEl("path", g);
  
  
  attrs(earL, {d:"M-106 -25L-111 -26.5Q-117 -25 -117.5 -20L-118.5 12Q-119 17 -120 20Q-119 27 -113 30Q-108 31.5 -105 27", fill:"none", stroke:"#000", "stroke-width":3, "stroke-linejoin":"round"});
  var earR = svgEl("path", g);
  
  
  attrs(earR, {d:"M106 -25L111 -26.5Q117 -25 117.5 -20L118.5 12Q119 17 120 20Q119 27 113 30Q108 31.5 105 27", fill:"none", stroke:"#000", "stroke-width":3, "stroke-linejoin":"round"});
}

drawTopo("topomap-a-hg-congruent", topoA_HG_congruent, 1393, 251.5);
drawTopo("topomap-a-rg-congruent", topoA_RG_congruent, 1757.8, 251.5);
drawTopo("topomap-a-ag-congruent", topoA_AG_congruent, 2122.6, 251.5);
drawTopo("topomap-a-hg-incongruent", topoA_HG_incongruent, 1393, 632.6);
drawTopo("topomap-a-rg-incongruent", topoA_RG_incongruent, 1773.7, 632.6);
drawTopo("topomap-a-ag-incongruent", topoA_AG_incongruent, 2139.3, 632.6);
drawTopo("topomap-b-hg-congruent", topoB_HG_congruent, 1378.8, 1286.6);
drawTopo("topomap-b-rg-congruent", topoB_RG_congruent, 1741.2, 1286.6);
drawTopo("topomap-b-ag-congruent", topoB_AG_congruent, 2114.6, 1286.6);
drawTopo("topomap-b-hg-incongruent", topoB_HG_incongruent, 1366.9, 1678.3);
drawTopo("topomap-b-rg-incongruent", topoB_RG_incongruent, 1741.2, 1678.3);
drawTopo("topomap-b-ag-incongruent", topoB_AG_incongruent, 2114.6, 1678.3);

/* ---------- colour bars ---------- */
function drawColorbar(name, geom){
  var layer = document.getElementById("barLayer");
  var g = svgEl("g", layer);
  
  
  function yv(v){ return geom.y0 - geom.pxPerUnit*v; }
  var span = colormapValues[colormapValues.length-1]-colormapValues[0];
  var grad = svgEl("linearGradient", document.getElementById("defs"));
  attrs(grad, {id:name+"-grad", x1:0, y1:1, x2:0, y2:0});
  colormapValues.forEach(function(v,i){
    var st = svgEl("stop", grad);
    attrs(st, {offset:((v-colormapValues[0])/span).toFixed(4), "stop-color":colormapColors[i]});
  });
  var bar = svgEl("rect", g);
  
  
  attrs(bar, {x:geom.x, y:yv(7.35), width:geom.w, height:geom.pxPerUnit*14.7, fill:"url(#"+name+"-grad)"});
  var right = svgEl("line", g);
  
  
  attrs(right, {x1:geom.x+geom.w, x2:geom.x+geom.w, y1:yv(7.35), y2:yv(-7.35), stroke:"#1b2430", "stroke-width":2.5});
  var left = svgEl("line", g);
  
  
  attrs(left, {x1:geom.x, x2:geom.x, y1:yv(7.35), y2:yv(-7.35), stroke:"#2a2a2a", "stroke-width":1.2});
  colorbarTicks.forEach(function(v,i){
    var tick = svgEl("line", g);
    
    
    attrs(tick, {x1:geom.x+geom.w-8, x2:geom.x+geom.w, y1:yv(v), y2:yv(v), stroke:"#1b2430", "stroke-width":1.6});
    var lab = svgEl("text", g);
    
    
    attrs(lab, {x:v<0?geom.x+geom.w+12:geom.x+geom.w+13, y:yv(v)+7.5, "font-size":21, fill:"#1c2a38"});
    lab.textContent = colorbarLabels[i];
  });
}
drawColorbar("panel-a-colorbar", {x:2347, w:49, y0:453.6, pxPerUnit:44.1});
drawColorbar("panel-b-colorbar", {x:2323, w:50, y0:1498, pxPerUnit:44.15});
</script>
</body>
</html>
